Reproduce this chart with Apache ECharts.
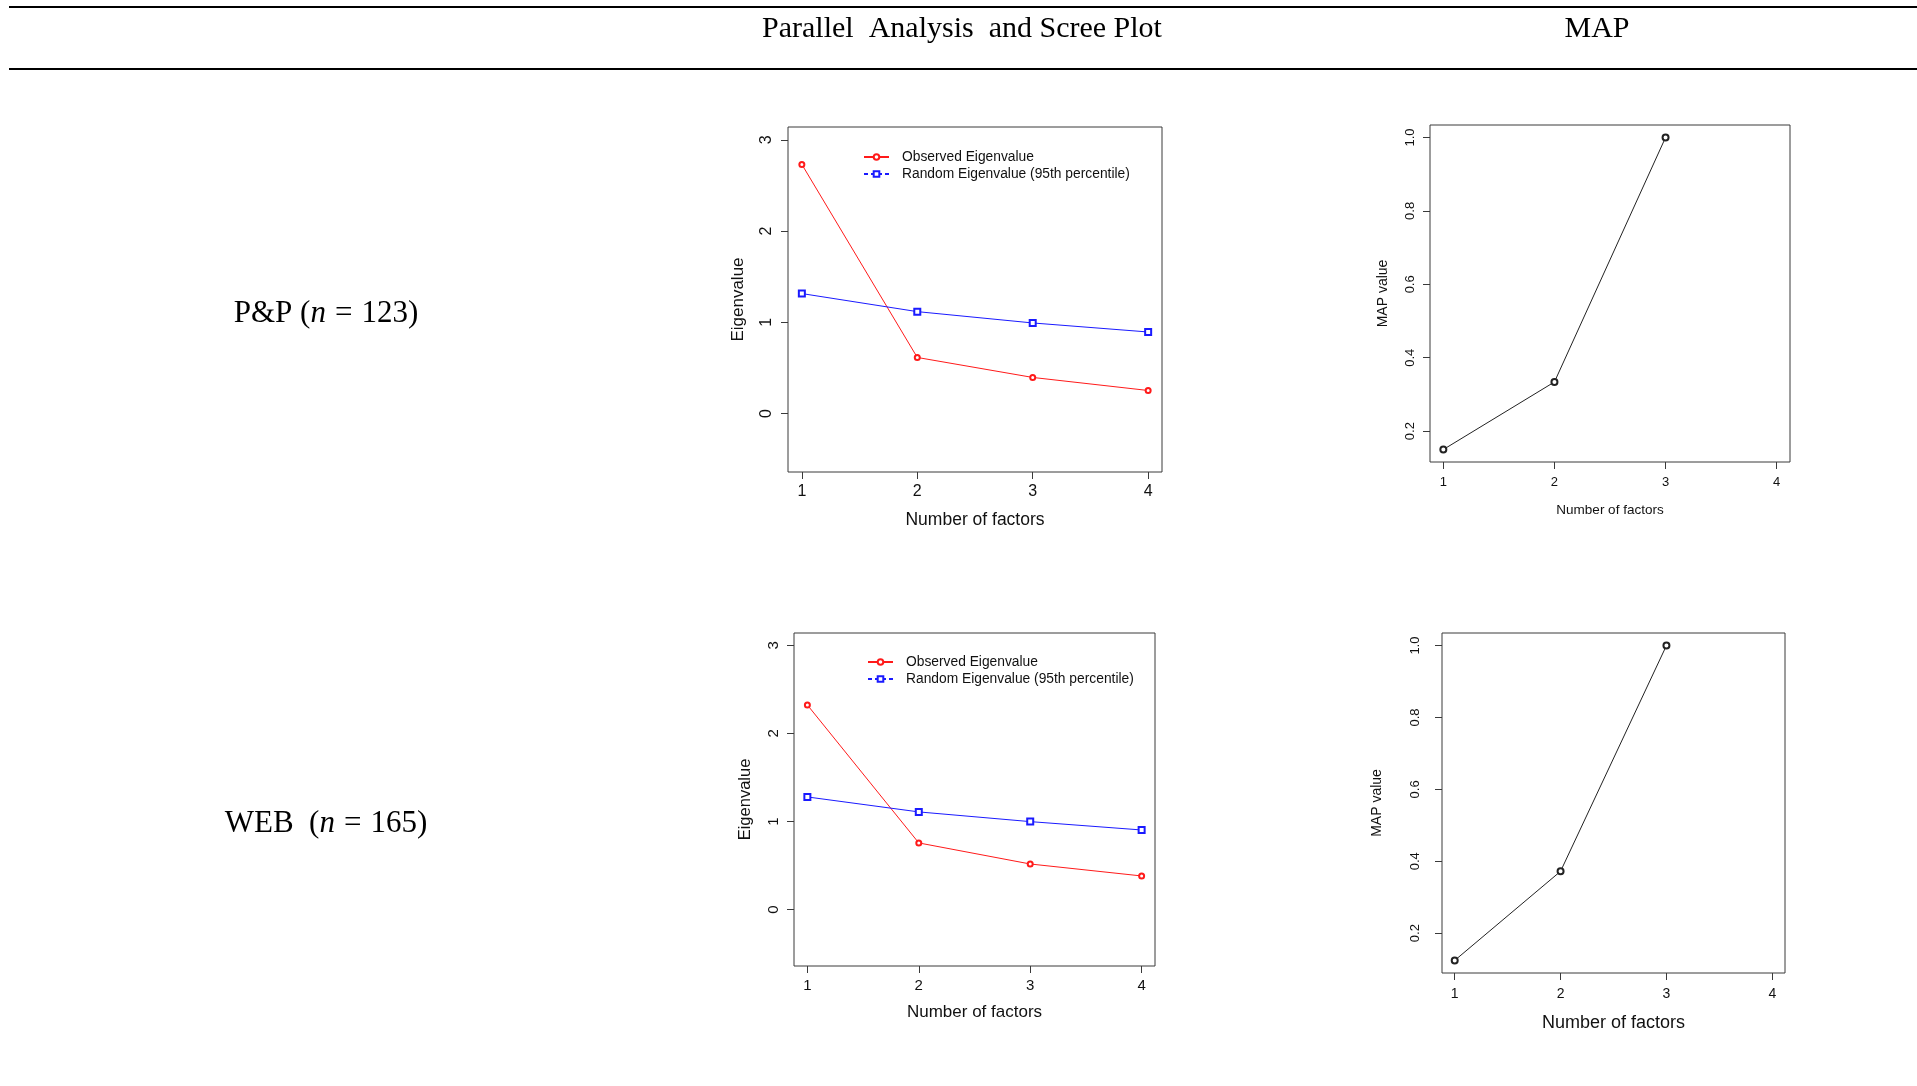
<!DOCTYPE html>
<html>
<head>
<meta charset="utf-8">
<script src="https://cdn.jsdelivr.net/npm/echarts@6/dist/echarts.min.js"></script>
<style>
html,body{margin:0;padding:0;background:#fff;}
#chart{width:1917px;height:1086px;}
</style>
</head>
<body>
<div id="chart"></div>
<script>
// ---- data ----
const factors = [1, 2, 3, 4];
const factorTicks = [1, 2, 3, 4];
const eigenTicks = [0, 1, 2, 3];
const mapTicks = [0.2, 0.4, 0.6, 0.8, 1.0];

const ppObserved = [2.73, 0.615, 0.396, 0.253];
const ppRandom = [1.315, 1.117, 0.993, 0.894];
const webObserved = [2.323, 0.757, 0.518, 0.382];
const webRandom = [1.279, 1.109, 0.999, 0.904];

const ppMap = [0.150, 0.334, 1.000];
const webMap = [0.124, 0.372, 1.000];

const headerTitles = ['Parallel  Analysis  and Scree Plot', 'MAP'];
const rowLabels = [['P&P (', 'n', '=', '123)'], ['WEB  (', 'n', '=', '165)']];
const obsName = 'Observed Eigenvalue';
const rndName = 'Random Eigenvalue (95th percentile)';

// ---- helpers ----
const pairs = (vals) => vals.map((v, i) => [factors[i], v]);
const SANS = 'Liberation Sans, Arial, sans-serif';
const SERIF = 'Liberation Serif, Times New Roman, serif';

function grid(left, top, width, height) {
  return { left, top, width, height, show: true, borderColor: '#3a3a3a', borderWidth: 1, backgroundColor: 'transparent', containLabel: false };
}
function xAxis(gi, min, max, fs, margin, nameGap, nameFs) {
  return {
    type: 'value', gridIndex: gi, min, max,
    axisLine: { show: false, onZero: false },
    splitLine: { show: false },
    axisTick: { show: true, inside: false, length: 7, lineStyle: { color: '#3a3a3a', width: 1 }, customValues: factorTicks },
    axisLabel: { customValues: factorTicks, fontSize: fs, fontFamily: SANS, color: '#111', margin, formatter: v => String(v) },
    name: 'Number of factors', nameLocation: 'middle', nameGap,
    nameTextStyle: { fontSize: nameFs, fontFamily: SANS, color: '#111' }
  };
}
function yAxis(gi, min, max, ticks, dec, fs, margin, name, nameGap, nameFs) {
  return {
    type: 'value', gridIndex: gi, min, max,
    axisLine: { show: false, onZero: false },
    splitLine: { show: false },
    axisTick: { show: true, inside: false, length: 7, lineStyle: { color: '#3a3a3a', width: 1 }, customValues: ticks },
    axisLabel: { customValues: ticks, rotate: 90, fontSize: fs, fontFamily: SANS, color: '#111', margin, formatter: v => (dec ? Number(v).toFixed(dec) : String(Math.round(v))) },
    name, nameLocation: 'middle', nameGap,
    nameTextStyle: { fontSize: nameFs, fontFamily: SANS, color: '#111' }
  };
}
function obsSeries(xi, vals) {
  return { name: obsName, type: 'line', xAxisIndex: xi, yAxisIndex: xi, data: pairs(vals),
    symbol: 'emptyCircle', symbolSize: 5, showSymbol: true,
    lineStyle: { color: '#ff1a1a', width: 1 }, itemStyle: { color: '#ff1a1a', borderWidth: 0.8 } };
}
function rndSeries(xi, vals) {
  return { name: rndName, type: 'line', xAxisIndex: xi, yAxisIndex: xi, data: pairs(vals),
    symbol: 'emptyRect', symbolSize: 6, showSymbol: true,
    lineStyle: { color: '#1a1aff', width: 1 }, itemStyle: { color: '#1a1aff', borderWidth: 0.8 } };
}
function mapSeries(xi, vals) {
  return { name: 'MAP', type: 'line', xAxisIndex: xi, yAxisIndex: xi, data: pairs(vals),
    symbol: 'emptyCircle', symbolSize: 6, showSymbol: true,
    lineStyle: { color: '#222', width: 1 }, itemStyle: { color: '#222', borderWidth: 0.8 } };
}
function legend(left, top) {
  return {
    orient: 'vertical', left, top, padding: 0, itemWidth: 25, itemHeight: 7, itemGap: 3,
    selectedMode: false,
    textStyle: { fontSize: 13.8, lineHeight: 14, fontFamily: SANS, color: '#111', padding: [0, 0, 0, 8] },
    data: [
      { name: obsName },
      { name: rndName, lineStyle: { type: [4, 3] } }
    ]
  };
}

const chart = echarts.init(document.getElementById('chart'), null, { renderer: 'canvas' });

const graphics = [
  { type: 'line', shape: { x1: 9, y1: 7, x2: 1917, y2: 7 }, style: { stroke: '#000', lineWidth: 2 } },
  { type: 'line', shape: { x1: 9, y1: 69, x2: 1917, y2: 69 }, style: { stroke: '#000', lineWidth: 2 } },
  { type: 'text', x: 962, y: 29.5, style: { text: headerTitles[0], font: '30px ' + SERIF, fill: '#000', align: 'center', verticalAlign: 'middle' } },
  { type: 'text', x: 1597, y: 29.5, style: { text: headerTitles[1], font: '30px ' + SERIF, fill: '#000', align: 'center', verticalAlign: 'middle' } }
];
const rowY = [314, 824];
rowLabels.forEach((parts, i) => {
  graphics.push({
    type: 'text', x: 326, y: rowY[i],
    style: {
      text: '{r|' + parts[0] + '}{i|' + parts[1] + '}{e|' + parts[2] + '}{r|' + parts[3] + '}',
      align: 'center', verticalAlign: 'middle', fill: '#000',
      rich: {
        r: { fontFamily: SERIF, fontSize: 31, fill: '#000' },
        i: { fontFamily: SERIF, fontSize: 31, fontStyle: 'italic', fill: '#000' },
        e: { fontFamily: SERIF, fontSize: 31, fill: '#000', padding: [0, 9, 0, 9] }
      }
    }
  });
});

chart.setOption({
  animation: false,
  backgroundColor: '#fff',
  grid: [
    grid(788, 127, 374, 345),
    grid(1430, 125, 360, 337),
    grid(794, 633, 361, 333),
    grid(1442, 633, 343, 340)
  ],
  xAxis: [
    xAxis(0, 0.88, 4.12, 16, 12, 39, 17.5),
    xAxis(1, 0.88, 4.12, 13, 14, 41, 13.5),
    xAxis(2, 0.88, 4.12, 15, 12, 38, 17),
    xAxis(3, 0.88, 4.12, 14, 14, 41, 18)
  ],
  yAxis: [
    yAxis(0, -0.64, 3.14, eigenTicks, 0, 16, 13, 'Eigenvalue', 41, 17),
    yAxis(1, 0.116, 1.034, mapTicks, 1, 13, 13.5, 'MAP value', 40, 14),
    yAxis(2, -0.64, 3.14, eigenTicks, 0, 15, 13, 'Eigenvalue', 40, 16.5),
    yAxis(3, 0.089, 1.035, mapTicks, 1, 13, 20, 'MAP value', 58, 14)
  ],
  legend: [legend(863, 150), legend(867, 655)],
  series: [
    obsSeries(0, ppObserved),
    rndSeries(0, ppRandom),
    mapSeries(1, ppMap),
    obsSeries(2, webObserved),
    rndSeries(2, webRandom),
    mapSeries(3, webMap)
  ],
  graphic: graphics
});
</script>
</body>
</html>
